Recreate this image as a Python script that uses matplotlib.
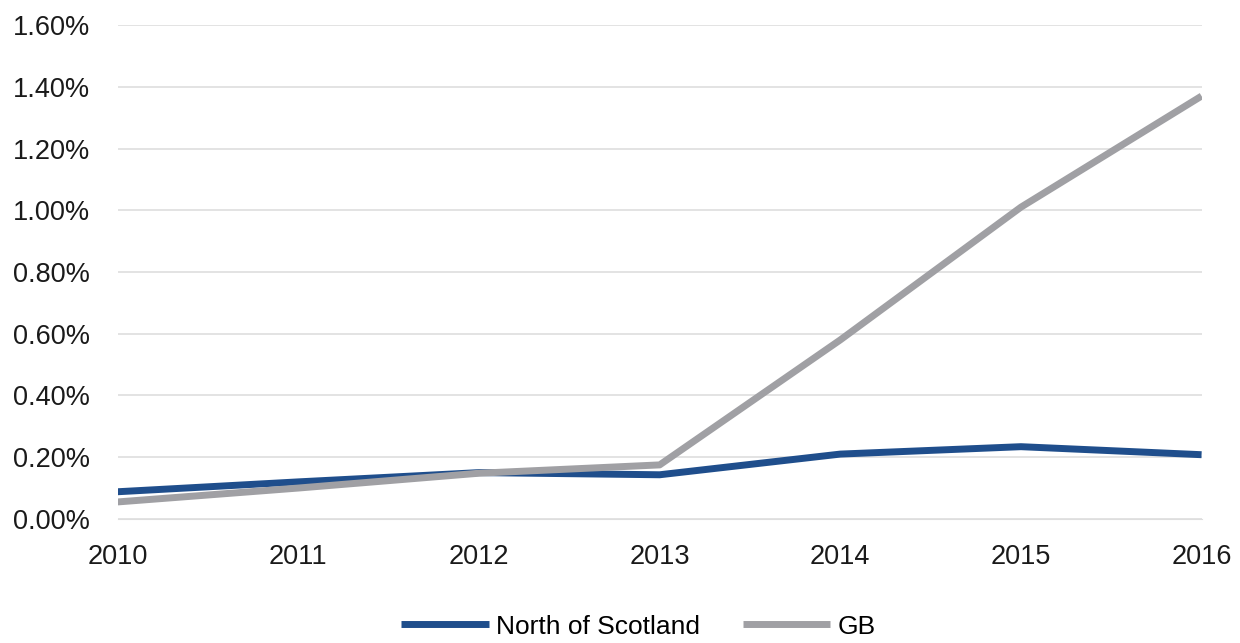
import matplotlib
matplotlib.use('Agg')
import matplotlib.pyplot as plt
from matplotlib.ticker import FuncFormatter

# share of output, per cent
years = [2010, 2011, 2012, 2013, 2014, 2015, 2016]
north_scotland = [0.088, 0.12, 0.15, 0.143, 0.21, 0.234, 0.208]
gb = [0.055, 0.10, 0.148, 0.175, 0.58, 1.01, 1.37]

plt.rcParams['font.family'] = ['Liberation Sans', 'DejaVu Sans']

fig = plt.figure(figsize=(12.4, 6.43), dpi=100)
ax = fig.add_axes([0.095, 0.193, 0.874, 0.768])

ax.plot(years, north_scotland, color='#1F4E8C', lw=5, label='North of Scotland',
        solid_capstyle='butt', solid_joinstyle='round')
ax.plot(years, gb, color='#A0A0A4', lw=5, label='GB',
        solid_capstyle='butt', solid_joinstyle='round')

ax.set_xlim(2010, 2016)
ax.set_ylim(0, 1.6)
ax.set_yticks([i * 0.2 for i in range(9)])
ax.yaxis.set_major_formatter(FuncFormatter(lambda v, p: '%.2f%%' % v))
ax.set_xticks(years)
ax.grid(axis='y', color='#DEDEDE', lw=1.2)
ax.set_axisbelow(True)
for s in ['top', 'right', 'left']:
    ax.spines[s].set_visible(False)
ax.spines['bottom'].set_color('#DEDEDE')
ax.tick_params(length=0, labelsize=19.5, colors='#1A1A1A')
ax.tick_params(axis='x', pad=18)
ax.tick_params(axis='y', pad=20)

fig.legend(loc='lower center', bbox_to_anchor=(0.515, -0.03), ncol=2, frameon=False,
           fontsize=19, handlelength=3.3, columnspacing=1.6, handletextpad=0.3)

fig.savefig('out.png', dpi=100)
